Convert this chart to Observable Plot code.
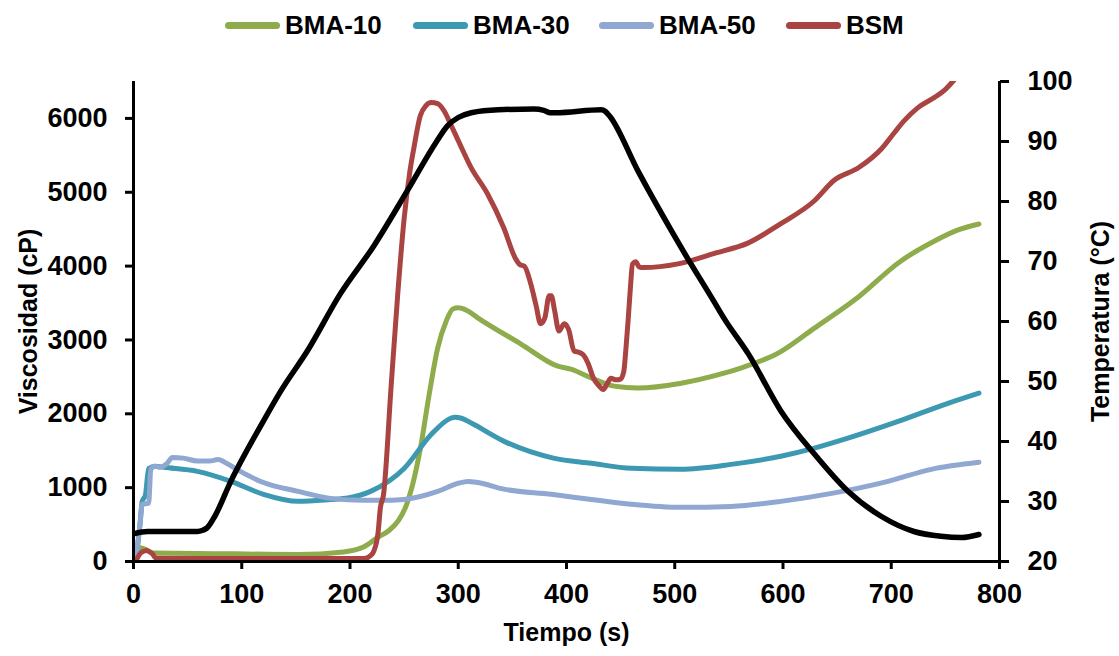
<!DOCTYPE html>
<html><head><meta charset="utf-8">
<script src="https://cdn.jsdelivr.net/npm/d3@7"></script>
<script src="https://cdn.jsdelivr.net/npm/@observablehq/plot@0.6"></script>
<style>
body{margin:0;background:#fff;font-family:"Liberation Sans",Arial,sans-serif;font-weight:bold;overflow:hidden;}
#legend{position:relative;width:1119px;height:50px;}
.item{position:absolute;top:0;height:50px;display:flex;align-items:center;font-size:26px;color:#000;white-space:nowrap;}
.sw{width:55px;height:7px;border-radius:4px;margin-right:5px;}
#chart svg{display:block;}
</style></head><body>
<div id="legend"></div><div id="chart"></div>
<script>
// ---- data ----
const seriesNames = ["BMA-10", "BMA-30", "BMA-50", "BSM"];
const seriesColors = ["#8eac4b", "#3d99b1", "#8fa7d1", "#a94442"];
const xTicks = [0, 100, 200, 300, 400, 500, 600, 700, 800];
const viscTicks = [0, 1000, 2000, 3000, 4000, 5000, 6000];
const tempTicks = [20, 30, 40, 50, 60, 70, 80, 90, 100];

// [tiempo (s), viscosidad (cP)]
const bma10 = [[1,20],[6,185],[10,170],[18,115],[59,110],[152,95],[194,130],[213,200],[226,330],[236,420],[245,560],[252,760],[258,1050],[265,1530],[273,2250],[281,2890],[289,3260],[295,3420],[300,3435],[308,3400],[318,3300],[358,2945],[392,2645],[404,2605],[423,2485],[444,2375],[466,2350],[506,2415],[543,2540],[561,2620],[596,2825],[629,3160],[666,3540],[709,4070],[740,4340],[760,4480],[781,4570]];
const bma30 = [[2,0],[6,500],[8,810],[11,900],[14,1260],[20,1290],[28,1275],[59,1220],[90,1085],[120,910],[152,815],[182,840],[198,860],[219,950],[250,1260],[275,1720],[293,1940],[297,1955],[303,1940],[312,1875],[342,1630],[388,1400],[423,1330],[460,1262],[506,1250],[552,1315],[598,1425],[629,1535],[660,1670],[707,1900],[753,2145],[781,2280]];
const bma50 = [[2,0],[6,500],[8,775],[14,790],[16,1250],[20,1290],[25,1275],[31,1330],[36,1410],[46,1400],[59,1360],[70,1360],[78,1380],[86,1330],[95,1250],[120,1070],[152,950],[182,855],[213,828],[228,828],[250,841],[281,950],[300,1060],[309,1085],[318,1070],[342,980],[386,910],[423,840],[460,775],[506,733],[552,746],[598,814],[645,923],[697,1086],[737,1248],[781,1343]];
const bsm = [[2,0],[7,120],[12,150],[17,110],[21,45],[60,40],[213,40],[219,80],[222,140],[226,400],[228,720],[231,910],[238,2375],[244,3600],[250,4640],[255,5250],[259,5600],[265,6040],[270,6170],[275,6215],[281,6200],[287,6100],[293,5920],[300,5700],[312,5330],[327,4980],[342,4520],[353,4100],[357,4020],[361,4000],[367,3760],[372,3460],[376,3220],[380,3300],[384,3600],[386,3600],[389,3400],[393,3120],[398,3220],[402,3140],[407,2850],[412,2830],[416,2790],[420,2680],[425,2480],[430,2380],[434,2330],[438,2420],[441,2480],[446,2460],[450,2470],[453,2580],[455,2900],[457,3280],[459,3700],[461,4030],[464,4060],[467,3990],[471,3980],[503,4030],[536,4170],[568,4315],[598,4575],[629,4885],[647,5160],[670,5335],[691,5590],[703,5810],[712,5970],[725,6150],[740,6285],[749,6380],[758,6520]];
// [tiempo (s), temperatura (°C)]
const temperatura = [[0,24.6],[13,25.0],[59,25.0],[64,25.2],[68,25.6],[75,27.5],[90,33.4],[120,43.4],[136,48.4],[161,55.2],[191,64.6],[222,72.6],[253,81.8],[280,90.0],[290,92.6],[300,94.0],[312,94.8],[337,95.3],[370,95.4],[379,95.2],[385,94.8],[390,94.8],[432,95.3],[436,95.0],[440,94.2],[466,85.1],[497,75.1],[506,72.3],[536,63.4],[546,60.4],[568,54.6],[598,45.1],[629,37.9],[660,31.7],[691,27.5],[721,25.0],[746,24.2],[765,24.0],[781,24.5]];

// ---- chart ----
const yMax = 6500;
const toY = T => (T - 20) * yMax / 80;
const FONT = '"Liberation Sans",Arial,sans-serif';
const allSeries = [bma10, bma30, bma50, bsm];

const legend = document.getElementById("legend");
const legendLeft = [225, 413, 599, 786];
seriesNames.forEach((n, i) => {
  const d = document.createElement("div");
  d.className = "item";
  d.style.left = legendLeft[i] + "px";
  d.innerHTML = `<span class="sw" style="background:${seriesColors[i]}"></span><span>${n}</span>`;
  legend.appendChild(d);
});

const lineOpts = {curve: "monotone-x", strokeWidth: 5, strokeLinejoin: "round", strokeLinecap: "round", clip: true};

const chart = Plot.plot({
  width: 1119, height: 606,
  marginLeft: 133, marginRight: 120, marginTop: 31, marginBottom: 95,
  style: {fontFamily: FONT, fontWeight: "bold", fontSize: "27px", color: "#000", background: "#fff", overflow: "visible"},
  x: {domain: [0, 800]},
  y: {domain: [0, yMax]},
  marks: [
    Plot.axisX({ticks: xTicks, tickFormat: d => String(d), tickSize: 8, tickPadding: 14, strokeWidth: 3, label: null}),
    Plot.axisY({ticks: viscTicks, tickFormat: d => String(d), tickSize: 8, tickPadding: 18, strokeWidth: 3, label: null}),
    Plot.axisY({anchor: "right", ticks: tempTicks.map(toY), tickFormat: d => String(Math.round(d * 80 / yMax + 20)), tickSize: 9, tickPadding: 19, strokeWidth: 3, label: null}),
    ...allSeries.map((s, i) => Plot.line(s, {x: d => d[0], y: d => d[1], stroke: seriesColors[i], ...lineOpts})),
    Plot.line(temperatura, {x: d => d[0], y: d => toY(d[1]), stroke: "#000", ...lineOpts, strokeWidth: 5.5}),
    Plot.ruleX([0, 800], {strokeWidth: 3, stroke: "#000"}),
    Plot.ruleY([0], {strokeWidth: 3, stroke: "#000"}),
    Plot.text(["Viscosidad (cP)"], {frameAnchor: "left", textAnchor: "middle", dx: -105, rotate: -90, fontSize: 25, fontWeight: "bold"}),
    Plot.text(["Temperatura (°C)"], {frameAnchor: "right", textAnchor: "middle", dx: 101, rotate: -90, fontSize: 25, fontWeight: "bold"}),
    Plot.text(["Tiempo (s)"], {frameAnchor: "bottom", dy: 79, fontSize: 25, fontWeight: "bold"})
  ]
});
document.getElementById("chart").appendChild(chart);
</script>
</body></html>
